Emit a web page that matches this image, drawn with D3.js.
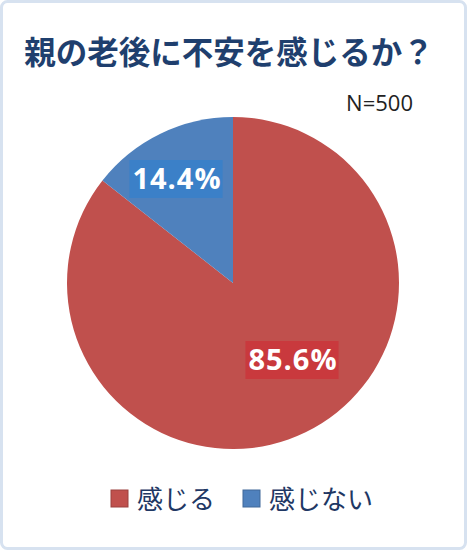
<!DOCTYPE html>
<html><head><meta charset="utf-8">
<script src="https://cdn.jsdelivr.net/npm/d3@7"></script>
<style>body{margin:0;background:#fff}</style>
</head><body>
<svg id="c" width="467" height="550"></svg>
<script>
// data
var categories = ["感じる", "感じない"];
var values = [85.6, 14.4];
var colors = ["#c0504d", "#4f81bd"];
var labelBg = ["#c9393d", "#3b80c8"];

var svg = d3.select("#c");
var font = "'Noto Sans CJK JP', sans-serif";

svg.append("rect").attr("x", 1.5).attr("y", 1.5).attr("width", 464).attr("height", 547)
  .attr("rx", 6).attr("fill", "#fff").attr("stroke", "#d7e2f0").attr("stroke-width", 3);

svg.append("text").attr("x", 229).attr("y", 64).attr("text-anchor", "middle")
  .attr("font-family", font).attr("font-weight", "bold").attr("font-size", 31.5)
  .attr("fill", "#1f3f6e").text("親の老後に不安を感じるか？");

svg.append("text").attr("x", 413).attr("y", 111).attr("text-anchor", "end")
  .attr("font-family", "'Open Sans', sans-serif").attr("font-size", 22)
  .attr("fill", "#222").text("N=500");

var cx = 233, cy = 283, r = 166;
var pie = d3.pie().sort(null).value(d => d);
var arc = d3.arc().innerRadius(0).outerRadius(r);
var g = svg.append("g").attr("transform", "translate(" + cx + "," + cy + ")");
var arcs = pie(values);
g.selectAll("path").data(arcs).enter().append("path")
  .attr("d", arc).attr("fill", (d, i) => colors[i]);

// labels
var labelPos = [[293, 360], [177, 179]];
arcs.forEach(function (d, i) {
  var t = svg.append("text").attr("x", labelPos[i][0]).attr("y", labelPos[i][1] + 10)
    .attr("text-anchor", "middle").attr("font-family", "'Open Sans', sans-serif")
    .attr("font-weight", "bold").attr("font-size", 29).attr("letter-spacing", 1).attr("fill", "#fff")
    .text(values[i].toFixed(1) + "%");
  var b = t.node().getBBox();
  svg.insert("rect", function () { return t.node(); })
    .attr("x", b.x - 3).attr("y", labelPos[i][1] - 19).attr("width", b.width + 4).attr("height", 38)
    .attr("fill", labelBg[i]);
});

// legend
var legX = [111, 243];
categories.forEach(function (c, i) {
  svg.append("rect").attr("x", legX[i]).attr("y", 490).attr("width", 17).attr("height", 17)
    .attr("fill", colors[i]).attr("stroke", d3.color(colors[i]).darker(0.6)).attr("stroke-width", 1);
  svg.append("text").attr("x", legX[i] + 26).attr("y", 509)
    .attr("font-family", font).attr("font-size", 26).attr("fill", "#1f3864").text(c);
});
</script>
</body></html>
